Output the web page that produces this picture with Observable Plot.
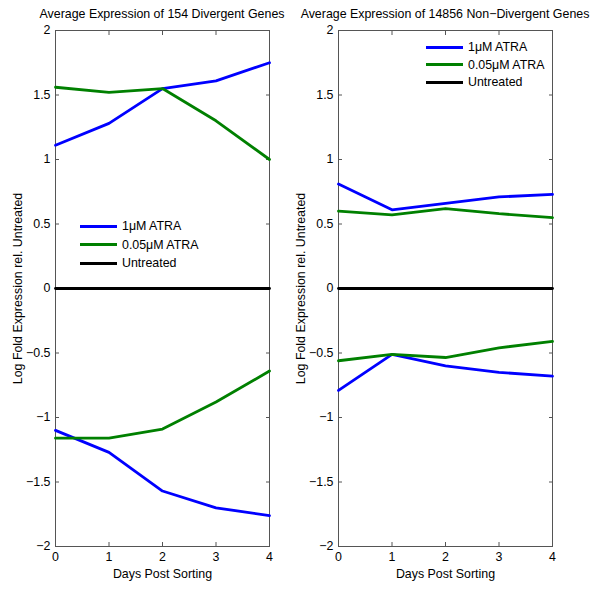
<!DOCTYPE html>
<html><head><meta charset="utf-8">
<script src="https://cdn.jsdelivr.net/npm/d3@7"></script>
<script src="https://cdn.jsdelivr.net/npm/@observablehq/plot@0.6"></script>
<style>
body{margin:0;background:#fff;font-family:"Liberation Sans",Arial,sans-serif;}
#wrap{position:relative;width:600px;height:593px;overflow:hidden;}
.panel{position:absolute;top:0;}
.title{position:absolute;top:7px;font-size:12.4px;line-height:14px;white-space:nowrap;transform:translateX(-50%);color:#000;}
.leg{position:absolute;font-size:12.4px;line-height:14px;white-space:nowrap;color:#000;}
.legline{position:absolute;height:0;border-top-style:solid;border-top-width:3px;}
</style></head><body><div id="wrap"></div>
<script>
// ---- data ----
const days = [0, 1, 2, 3, 4];
const yTicks = [-2, -1.5, -1, -0.5, 0, 0.5, 1, 1.5, 2];
const seriesNames = ["1μM ATRA", "0.05μM ATRA", "Untreated"];
const seriesColors = ["#0000ff", "#008000", "#000000"];
const titles = ["Average Expression of 154 Divergent Genes", "Average Expression of 14856 Non−Divergent Genes"];
const xLabel = "Days Post Sorting";
const yLabel = "Log Fold Expression rel. Untreated";

// Divergent genes (left panel)
const divBlueUp    = [1.11, 1.28, 1.55, 1.61, 1.75];
const divGreenUp   = [1.56, 1.52, 1.55, 1.30, 1.00];
const divBlueDown  = [-1.10, -1.27, -1.57, -1.70, -1.76];
const divGreenDown = [-1.16, -1.16, -1.09, -0.88, -0.64];
// Non-divergent genes (right panel)
const nonBlueUp    = [0.81, 0.61, 0.66, 0.71, 0.73];
const nonGreenUp   = [0.60, 0.57, 0.62, 0.58, 0.55];
const nonBlueDown  = [-0.79, -0.51, -0.60, -0.65, -0.68];
const nonGreenDown = [-0.56, -0.51, -0.535, -0.46, -0.41];
const untreated    = [0, 0, 0, 0, 0];

function rows(list) {
  const out = [];
  list.forEach(([key, series, vals]) => vals.forEach((v, i) => out.push({key, series, day: days[i], value: v})));
  return out;
}
const leftRows = rows([
  ["bu", seriesNames[0], divBlueUp], ["bd", seriesNames[0], divBlueDown],
  ["gu", seriesNames[1], divGreenUp], ["gd", seriesNames[1], divGreenDown],
  ["u", seriesNames[2], untreated]
]);
const rightRows = rows([
  ["bu", seriesNames[0], nonBlueUp], ["bd", seriesNames[0], nonBlueDown],
  ["gu", seriesNames[1], nonGreenUp], ["gd", seriesNames[1], nonGreenDown],
  ["u", seriesNames[2], untreated]
]);

const fmt = d3.format("~g");
const H = 593, MT = 30, MB = 47;
function panel(data, width, ml, mr) {
  return Plot.plot({
    width, height: H, marginLeft: ml, marginRight: mr, marginTop: MT, marginBottom: MB,
    style: {fontFamily: "'Liberation Sans', Arial, sans-serif", fontSize: "11.5px", color: "#000", background: "transparent", overflow: "visible"},
    x: {domain: [0, 4]},
    y: {domain: [-2, 2]},
    color: {domain: seriesNames, range: seriesColors},
    marks: [
      Plot.frame({stroke: "#555", strokeWidth: 1}),
      Plot.axisX({ticks: days, tickSize: -4, tickPadding: 10, tickFormat: fmt, stroke: "#555", label: xLabel, labelAnchor: "center", labelOffset: 31, labelArrow: "none", fontSize: 12.4}),
      Plot.axisX({anchor: "top", ticks: days, tickSize: -4, tickFormat: () => "", stroke: "#555", label: null}),
      Plot.axisY({ticks: yTicks, tickSize: -4, tickPadding: 9, tickFormat: fmt, stroke: "#555", label: yLabel, labelAnchor: "center", labelOffset: 42, labelArrow: "none", fontSize: 12.4}),
      Plot.axisY({anchor: "right", ticks: yTicks, tickSize: -4, tickFormat: () => "", stroke: "#555", label: null}),
      Plot.line(data, {x: "day", y: "value", z: "key", stroke: "series", strokeWidth: 2.8, strokeLinejoin: "round"})
    ]
  });
}

const wrap = document.getElementById("wrap");
const panels = [
  {data: leftRows, left: 0, width: 290, ml: 55, mr: 21, legLine: 80, legY: [226, 244.5, 263]},
  {data: rightRows, left: 290, width: 310, ml: 48, mr: 48, legLine: 426, legY: [47, 64.5, 82]}
];
panels.forEach((p, k) => {
  const svg = panel(p.data, p.width, p.ml, p.mr);
  const d = document.createElement("div");
  d.className = "panel"; d.style.left = p.left + "px";
  d.appendChild(svg); wrap.appendChild(d);
  const t = document.createElement("div");
  t.className = "title"; t.textContent = titles[k];
  t.style.left = (p.left + p.ml + (p.width - p.ml - p.mr) / 2) + "px";
  wrap.appendChild(t);
  seriesNames.forEach((name, i) => {
    const ln = document.createElement("div");
    ln.className = "legline";
    ln.style.left = p.legLine + "px"; ln.style.width = "37px";
    ln.style.top = (p.legY[i] - 1.5) + "px"; ln.style.borderTopColor = seriesColors[i];
    wrap.appendChild(ln);
    const tx = document.createElement("div");
    tx.className = "leg"; tx.textContent = name;
    tx.style.left = (p.legLine + 42) + "px"; tx.style.top = (p.legY[i] - 7) + "px";
    wrap.appendChild(tx);
  });
});
</script></body></html>
